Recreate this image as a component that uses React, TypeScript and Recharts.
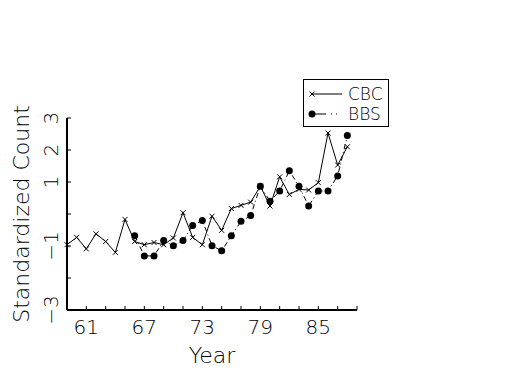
import React from "react";
import { LineChart, Line, XAxis, YAxis, Legend } from "recharts";

const years = [
  59, 60, 61, 62, 63, 64, 65, 66, 67, 68, 69, 70, 71, 72, 73, 74, 75, 76, 77, 78, 79, 80, 81, 82, 83, 84, 85, 86, 87, 88,
];
const cbc = [
  -0.96, -0.73, -1.09, -0.62, -0.86, -1.2, -0.17, -0.86, -0.96, -0.89, -0.96, -0.75, 0.04, -0.73, -0.96, -0.07, -0.51,
  0.17, 0.27, 0.37, 0.87, 0.25, 1.16, 0.61, 0.77, 0.75, 0.98, 2.53, 1.53, 2.1,
];
const bbsYears = [66, 67, 68, 69, 70, 71, 72, 73, 74, 75, 76, 77, 78, 79, 80, 81, 82, 83, 84, 85, 86, 87, 88];
const bbs = [
  -0.68, -1.31, -1.31, -0.83, -0.99, -0.83, -0.36, -0.2, -0.99, -1.15, -0.68, -0.23, -0.05, 0.87, 0.4, 0.72, 1.35, 0.87,
  0.25, 0.72, 0.72, 1.19, 2.45,
];

const xTicks = [59, 61, 63, 65, 67, 69, 71, 73, 75, 77, 79, 81, 83, 85, 87, 89];
const xLabels = [61, 67, 73, 79, 85];
const yTicks = [-3, -2, -1, 0, 1, 2, 3];
const yLabels: Record<number, string> = { 3: "3", 2: "2", 1: "1", [-1]: "\u22121", [-3]: "\u22123" };

const data = years.map((yr, i) => {
  const j = bbsYears.indexOf(yr);
  return { year: yr, CBC: cbc[i], BBS: j >= 0 ? bbs[j] : null };
});

const FONT = "'DejaVu Sans', sans-serif";

function XTick({ x, y, payload }: any) {
  const v = payload.value;
  return (
    <g>
      <line x1={x} x2={x} y1={y} y2={y - 4} stroke="#000" strokeWidth={1} />
      {xLabels.includes(v) && (
        <text x={x} y={y + 24} textAnchor="middle" fontSize={20} fontFamily={FONT} fontWeight={200} fill="#000">
          {v}
        </text>
      )}
    </g>
  );
}

function YTick({ x, y, payload }: any) {
  const lbl = yLabels[payload.value];
  return (
    <g>
      <line x1={x} x2={x + 4} y1={y} y2={y} stroke="#000" strokeWidth={1} />
      {lbl && (
        <text
          x={x - 9}
          y={y}
          transform={`rotate(-90 ${x - 9} ${y})`}
          textAnchor="middle"
          fontSize={20}
          fontFamily={FONT}
          fontWeight={200}
          fill="#000"
        >
          {lbl}
        </text>
      )}
    </g>
  );
}

function YTitle({ viewBox }: any) {
  const cx = viewBox.x + 22;
  const cy = viewBox.y + viewBox.height / 2;
  return (
    <text
      x={cx}
      y={cy}
      transform={`rotate(-90 ${cx} ${cy})`}
      textAnchor="middle"
      fontSize={22}
      fontFamily={FONT}
      fontWeight={200}
      fill="#000"
    >
      Standardized Count
    </text>
  );
}

function Cross({ cx, cy }: any) {
  if (cx == null || cy == null) return null;
  return (
    <g stroke="#000" strokeWidth={1}>
      <line x1={cx - 2.5} y1={cy - 2.5} x2={cx + 2.5} y2={cy + 2.5} />
      <line x1={cx - 2.5} y1={cy + 2.5} x2={cx + 2.5} y2={cy - 2.5} />
    </g>
  );
}

function LegendBox() {
  const row = { display: "flex", alignItems: "center", height: 20 } as const;
  return (
    <div
      style={{
        border: "1px solid #000",
        background: "#fff",
        width: 86,
        height: 48,
        boxSizing: "border-box",
        padding: "4px 0 0 4px",
        fontFamily: FONT,
        fontWeight: 200,
        fontSize: 17,
        lineHeight: "20px",
        color: "#000",
      }}
    >
      <div style={row}>
        <svg width={40} height={20}>
          <Cross cx={4} cy={10} />
          <line x1={4} x2={34} y1={10} y2={10} stroke="#000" />
        </svg>
        <span>CBC</span>
      </div>
      <div style={row}>
        <svg width={40} height={20}>
          <circle cx={4} cy={10} r={3.5} fill="#000" />
          <line x1={4} x2={34} y1={10} y2={10} stroke="#000" strokeDasharray="14 5 1 4 1 20" />
        </svg>
        <span>BBS</span>
      </div>
    </div>
  );
}

export default function App() {
  return (
    <div style={{ width: 525, height: 375, position: "relative", background: "#fff" }}>
      <style>{`body{margin:0}`}</style>
      <LineChart width={525} height={375} data={data} margin={{ top: 118, right: 168, bottom: 35, left: 7 }}>
        <XAxis
          dataKey="year"
          type="number"
          domain={[59, 89]}
          ticks={xTicks}
          interval={0}
          tickSize={0}
          tickMargin={0}
          tick={<XTick />}
          height={30}
          axisLine={{ stroke: "#000", strokeWidth: 2 }}
          label={{
            value: "Year",
            position: "insideBottom",
            offset: -23,
            fontSize: 22,
            fontFamily: FONT,
            fontWeight: 200,
            fill: "#000",
          }}
        />
        <YAxis
          type="number"
          domain={[-3, 3]}
          ticks={yTicks}
          interval={0}
          tickSize={0}
          tickMargin={0}
          tick={<YTick />}
          width={60}
          axisLine={{ stroke: "#000", strokeWidth: 2 }}
          label={<YTitle />}
        />
        <Legend
          layout="vertical"
          align="center"
          verticalAlign="middle"
          content={<LegendBox />}
          wrapperStyle={{ position: "absolute", left: 303, top: 79, width: 86, height: 48 }}
        />
        <Line dataKey="CBC" stroke="#000" strokeWidth={1} dot={<Cross />} isAnimationActive={false} />
        <Line
          dataKey="BBS"
          stroke="#000"
          strokeWidth={1}
          strokeDasharray="5 3 1 3"
          dot={{ r: 3.5, fill: "#000", stroke: "#000", strokeWidth: 0 }}
          connectNulls={false}
          isAnimationActive={false}
        />
      </LineChart>
    </div>
  );
}
